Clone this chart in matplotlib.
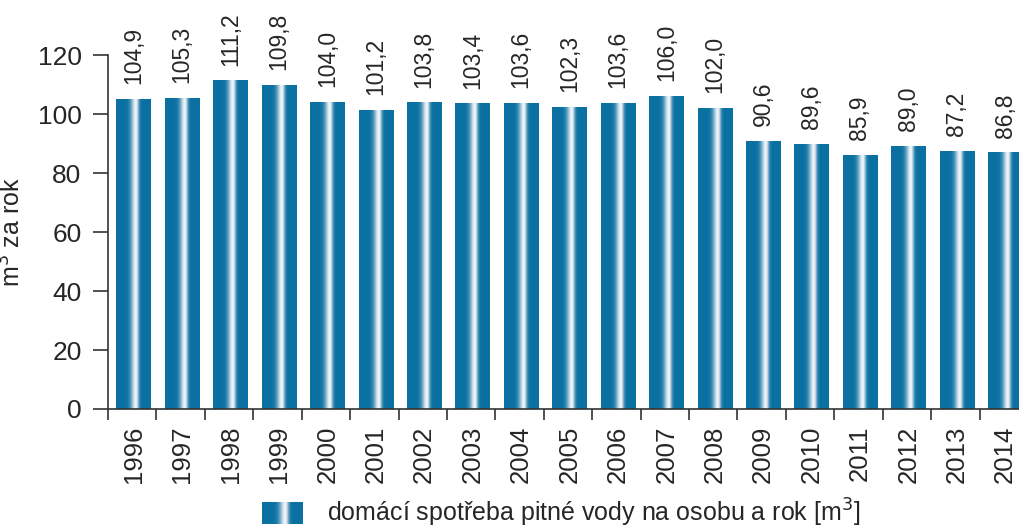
import numpy as np
import matplotlib
matplotlib.use("Agg")
import matplotlib.pyplot as plt
from matplotlib.colors import to_rgb

years = ["1996", "1997", "1998", "1999", "2000", "2001", "2002", "2003", "2004", "2005",
         "2006", "2007", "2008", "2009", "2010", "2011", "2012", "2013", "2014"]
values = [104.9, 105.3, 111.2, 109.8, 104.0, 101.2, 103.8, 103.4, 103.6, 102.3,
          103.6, 106.0, 102.0, 90.6, 89.6, 85.9, 89.0, 87.2, 86.8]
yticks = [0, 20, 40, 60, 80, 100, 120]
legend_label = "domácí spotřeba pitné vody na osobu a rok [m$^3$]"

plt.rcParams["font.family"] = ["Liberation Sans", "DejaVu Sans"]
TXT = "#262626"
BLUE = np.array(to_rgb("#0a70a2"))
LIGHT = np.array(to_rgb("#f2f5f8"))


def gradient(n=200):
    """Horizontal cylinder-like shading: blue edges, pale stripe slightly right of centre."""
    u = np.linspace(0, 1, n)
    c = 0.57
    sig = np.where(u < c, 0.14, 0.085)
    t = np.exp(-((u - c) / sig) ** 2)
    rgb = BLUE[None, :] * (1 - t[:, None]) + LIGHT[None, :] * t[:, None]
    return rgb[None, :, :]


fig = plt.figure(figsize=(10.19, 5.28), dpi=100)
ax = fig.add_axes([108 / 1019, 1 - 409 / 528, 920 / 1019, 354 / 528])

grad = gradient()
w = 0.71
x = np.arange(len(years))
for xi, v in zip(x, values):
    ax.imshow(grad, extent=[xi - w / 2 + 0.03, xi + w / 2 + 0.03, 0, v],
              aspect="auto", interpolation="bilinear", zorder=2)
    ax.annotate(f"{v:.1f}".replace(".", ","), (xi + 0.03, v), xytext=(0, 11),
                textcoords="offset points", rotation=90, ha="center", va="bottom",
                fontsize=16.5, color=TXT)

ax.set_xlim(-0.5, len(years) - 0.5)
ax.set_ylim(0, 120)

# boundary ticks without labels, labels centred under bars
ax.set_xticks(np.arange(-0.5, len(years), 1))
ax.set_xticklabels([])
ax.set_xticks(x + 0.03, minor=True)
ax.set_xticklabels(years, minor=True, rotation=90, fontsize=18.5, color=TXT)
ax.tick_params(axis="x", which="major", length=8, width=1.2, color="#333333")
ax.tick_params(axis="x", which="minor", length=0, pad=12)

ax.set_yticks(yticks)
ax.set_yticklabels([str(t) for t in yticks], fontsize=19, color=TXT)
ax.tick_params(axis="y", length=11, width=1.2, color="#333333", pad=8)

ax.set_ylabel("m$^3$ za rok", fontsize=18, color=TXT)
ax.yaxis.set_label_coords(-0.09, 0.5)

for s in ["top", "right"]:
    ax.spines[s].set_visible(False)
for s in ["left", "bottom"]:
    ax.spines[s].set_color("#333333")
    ax.spines[s].set_linewidth(1.2)

# legend drawn by hand so the swatch keeps the gradient
lax = fig.add_axes([262 / 1019, 1 - 524 / 528, 40 / 1019, 22 / 528])
lax.imshow(grad, aspect="auto", interpolation="bilinear")
lax.axis("off")
fig.text(327 / 1019, 1 - 513 / 528, legend_label, fontsize=18, color=TXT, va="center")

fig.savefig("out.png", dpi=100)
